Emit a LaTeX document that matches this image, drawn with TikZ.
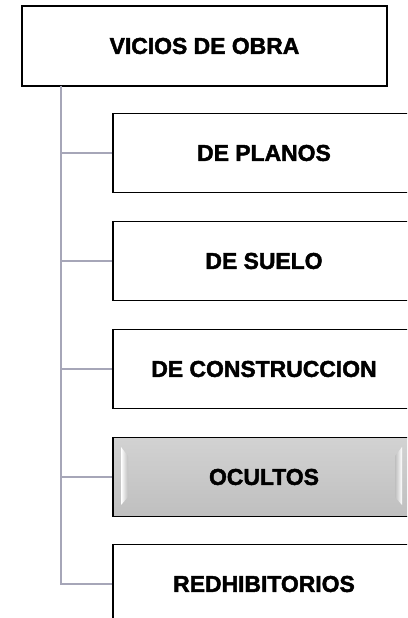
\documentclass[tikz,border=0pt]{standalone}
\usepackage{fontspec}
\setmainfont[BoldFeatures={FakeBold=2}]{Liberation Sans}
\usepackage{tikz}
\usetikzlibrary{positioning}

\definecolor{linkgray}{RGB}{166,166,184}
\definecolor{hidegray}{RGB}{191,191,191}

\tikzset{
  box/.style={draw=black, line width=1.2bp, fill=white,
    minimum width=302bp, minimum height=79bp, inner sep=0pt,
    font=\bfseries\fontsize{23}{27}\selectfont},
  rootbox/.style={box, minimum width=365bp, minimum height=80bp},
  hidebox/.style={box, top color=hidegray!70!white, bottom color=hidegray},
  link/.style={draw=linkgray, line width=2bp},
  bevel/.style={draw=none}
}

\begin{document}
\begin{tikzpicture}[x=1bp, y=-1bp]
    \useasboundingbox (0,0) rectangle (407,618);
    \clip (0,0) rectangle (407,618);

    % root
    \node[rootbox] (vicios) at (204.5,46) {VICIOS DE OBRA};
    \coordinate (trunk) at (61,86);

    % children
    \node[box] (planos) at (264,153) {DE PLANOS};
    \node[box] (suelo) at (264,261) {DE SUELO};
    \node[box] (construccion) at (264,369) {DE CONSTRUCCION};
    \node[hidebox] (ocultos) at (264,477) {OCULTOS};
    \node[box] (redhib) at (264,584) {REDHIBITORIOS};

    % bevels on the highlighted box
    \shade[bevel, left color=white, right color=hidegray]
      (121,447) -- (128,456) -- (128,497) -- (121,505) -- cycle;
    \shade[bevel, left color=hidegray, right color=white]
      (402,447) -- (395,456) -- (395,497) -- (402,505) -- cycle;

    % tree lines
    \draw[link] (trunk) |- (redhib.west);
    \draw[link] (trunk) |- (planos.west);
    \draw[link] (trunk) |- (suelo.west);
    \draw[link] (trunk) |- (construccion.west);
    \draw[link] (trunk) |- (ocultos.west);
\end{tikzpicture}
\end{document}
